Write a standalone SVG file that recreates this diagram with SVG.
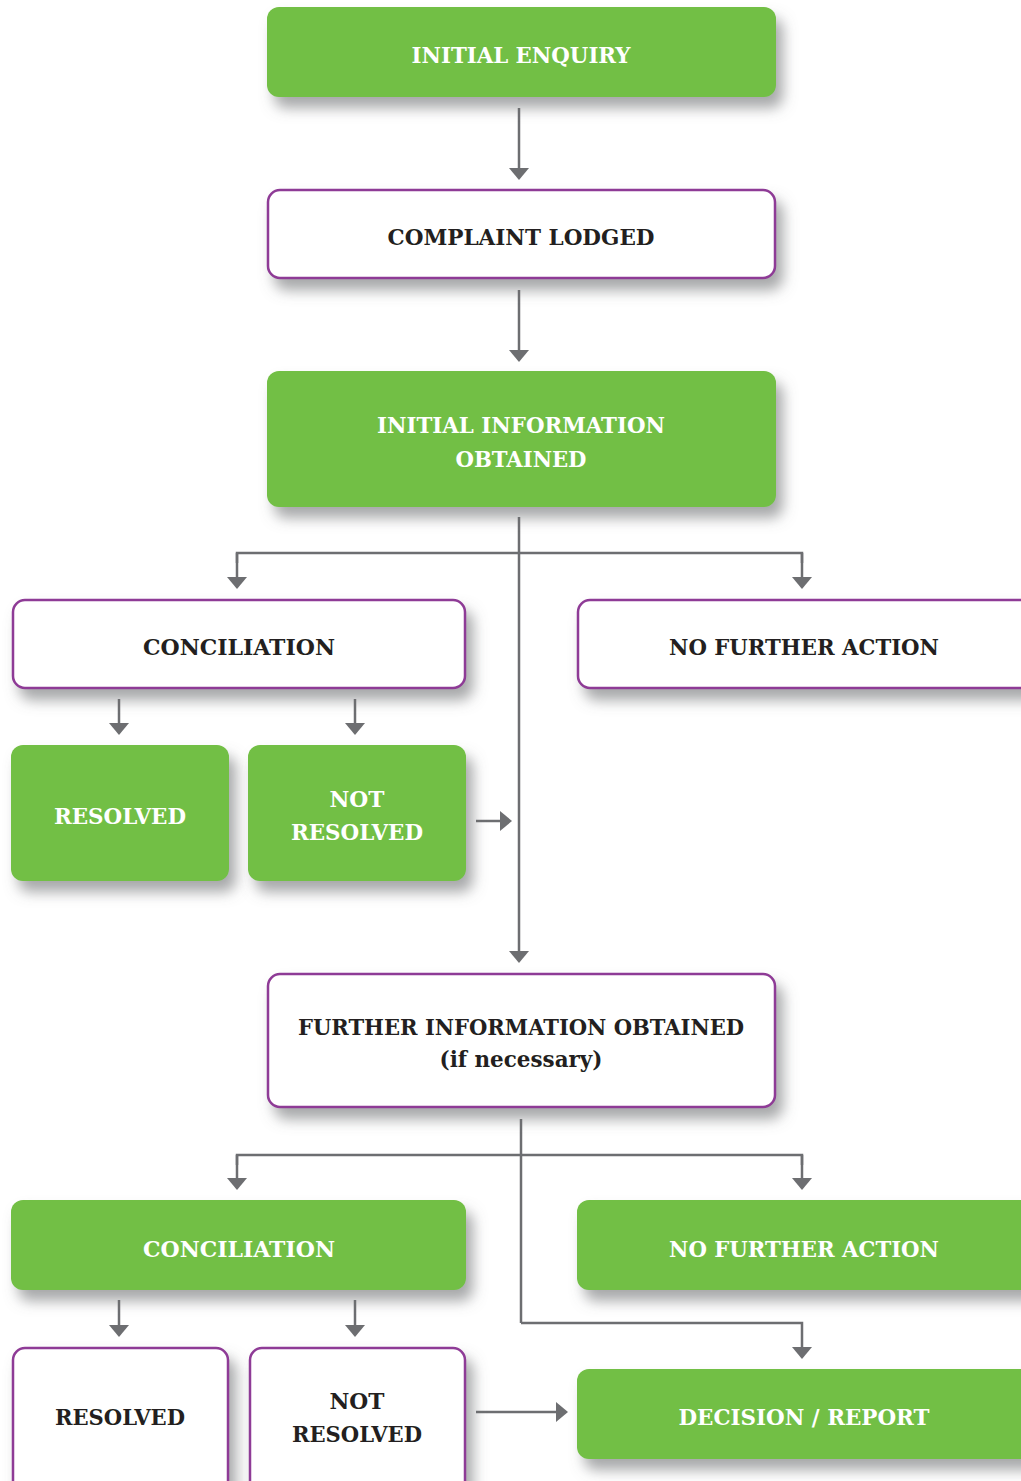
<svg xmlns="http://www.w3.org/2000/svg" width="1021" height="1481" viewBox="0 0 1021 1481">
<defs>
<filter id="sh" x="-10%" y="-20%" width="130%" height="170%">
<feDropShadow dx="7" dy="11" stdDeviation="7" flood-color="#6d6e71" flood-opacity="0.6"/>
</filter>
<marker id="ah" markerUnits="userSpaceOnUse" markerWidth="12" markerHeight="20" viewBox="0 0 12 20" refX="6" refY="10" orient="auto">
<path d="M0,0 L12,10 L0,20 Z" fill="#6d6e71"/>
</marker>
<style>
.g{fill:#72bf44;filter:url(#sh)}
.w{fill:#ffffff;stroke:#8e3a96;stroke-width:2.5;filter:url(#sh)}
.tw{font-family:"DejaVu Serif Condensed","DejaVu Serif",serif;font-stretch:condensed;font-size:23px;fill:#ffffff;text-anchor:middle;font-weight:600}
.td{font-family:"DejaVu Serif Condensed","DejaVu Serif",serif;font-stretch:condensed;font-size:23px;fill:#231f20;text-anchor:middle;font-weight:bold}
.c{fill:none;stroke:#6d6e71;stroke-width:2.5}
.a{fill:none;stroke:#6d6e71;stroke-width:2.5;marker-end:url(#ah)}
</style>
</defs>
<g id="connectors">
<line class="a" x1="519" y1="108" x2="519" y2="174"/>
<line class="a" x1="519" y1="290" x2="519" y2="356"/>
<line class="a" x1="519" y1="517" x2="519" y2="957"/>
<polyline class="c" points="237,563 237,553 802,553 802,563"/>
<line class="a" x1="237" y1="553" x2="237" y2="583"/>
<line class="a" x1="802" y1="553" x2="802" y2="583"/>
<line class="a" x1="119" y1="699" x2="119" y2="729"/>
<line class="a" x1="355" y1="699" x2="355" y2="729"/>
<line class="a" x1="476" y1="821" x2="506" y2="821"/>
<line class="c" x1="521" y1="1119" x2="521" y2="1323"/>
<polyline class="c" points="237,1165 237,1155 802,1155 802,1165"/>
<line class="a" x1="237" y1="1155" x2="237" y2="1184"/>
<line class="a" x1="802" y1="1155" x2="802" y2="1184"/>
<polyline class="a" points="521,1323 802,1323 802,1353"/>
<line class="a" x1="119" y1="1300" x2="119" y2="1331"/>
<line class="a" x1="355" y1="1300" x2="355" y2="1331"/>
<line class="a" x1="476" y1="1412" x2="562" y2="1412"/>
</g>
<g id="initial-enquiry">
<rect class="g" x="267" y="7" width="509" height="90" rx="12"/>
<text class="tw" x="521" y="63" textLength="219" lengthAdjust="spacingAndGlyphs">INITIAL ENQUIRY</text>
</g>
<g id="complaint-lodged">
<rect class="w" x="268" y="190" width="507" height="88" rx="12"/>
<text class="td" x="521" y="245" textLength="267" lengthAdjust="spacingAndGlyphs">COMPLAINT LODGED</text>
</g>
<g id="initial-information">
<rect class="g" x="267" y="371" width="509" height="136" rx="12"/>
<text class="tw" x="521" y="433" textLength="288" lengthAdjust="spacingAndGlyphs">INITIAL INFORMATION</text>
<text class="tw" x="521" y="467" textLength="131" lengthAdjust="spacingAndGlyphs">OBTAINED</text>
</g>
<g id="conciliation-1">
<rect class="w" x="13" y="600" width="452" height="88" rx="12"/>
<text class="td" x="239" y="655" textLength="192" lengthAdjust="spacingAndGlyphs">CONCILIATION</text>
</g>
<g id="no-further-action-1">
<rect class="w" x="578" y="600" width="470" height="88" rx="12"/>
<text class="td" x="804" y="655" textLength="270" lengthAdjust="spacingAndGlyphs">NO FURTHER ACTION</text>
</g>
<g id="resolved-1">
<rect class="g" x="11" y="745" width="218" height="136" rx="12"/>
<text class="tw" x="120" y="824" textLength="132" lengthAdjust="spacingAndGlyphs">RESOLVED</text>
</g>
<g id="not-resolved-1">
<rect class="g" x="248" y="745" width="218" height="136" rx="12"/>
<text class="tw" x="357" y="807" textLength="55" lengthAdjust="spacingAndGlyphs">NOT</text>
<text class="tw" x="357" y="840" textLength="132" lengthAdjust="spacingAndGlyphs">RESOLVED</text>
</g>
<g id="further-information">
<rect class="w" x="268" y="974" width="507" height="133" rx="12"/>
<text class="td" x="521" y="1035" textLength="446" lengthAdjust="spacingAndGlyphs">FURTHER INFORMATION OBTAINED</text>
<text class="td" x="521" y="1067" textLength="163" lengthAdjust="spacingAndGlyphs">(if necessary)</text>
</g>
<g id="conciliation-2">
<rect class="g" x="11" y="1200" width="455" height="90" rx="12"/>
<text class="tw" x="239" y="1257" textLength="192" lengthAdjust="spacingAndGlyphs">CONCILIATION</text>
</g>
<g id="no-further-action-2">
<rect class="g" x="577" y="1200" width="470" height="90" rx="12"/>
<text class="tw" x="804" y="1257" textLength="270" lengthAdjust="spacingAndGlyphs">NO FURTHER ACTION</text>
</g>
<g id="resolved-2">
<rect class="w" x="13" y="1348" width="215" height="150" rx="12"/>
<text class="td" x="120" y="1425" textLength="130" lengthAdjust="spacingAndGlyphs">RESOLVED</text>
</g>
<g id="not-resolved-2">
<rect class="w" x="250" y="1348" width="215" height="150" rx="12"/>
<text class="td" x="357" y="1409" textLength="55" lengthAdjust="spacingAndGlyphs">NOT</text>
<text class="td" x="357" y="1442" textLength="130" lengthAdjust="spacingAndGlyphs">RESOLVED</text>
</g>
<g id="decision-report">
<rect class="g" x="577" y="1369" width="470" height="90" rx="12"/>
<text class="tw" x="804" y="1425" textLength="251" lengthAdjust="spacingAndGlyphs">DECISION / REPORT</text>
</g>
</svg>
